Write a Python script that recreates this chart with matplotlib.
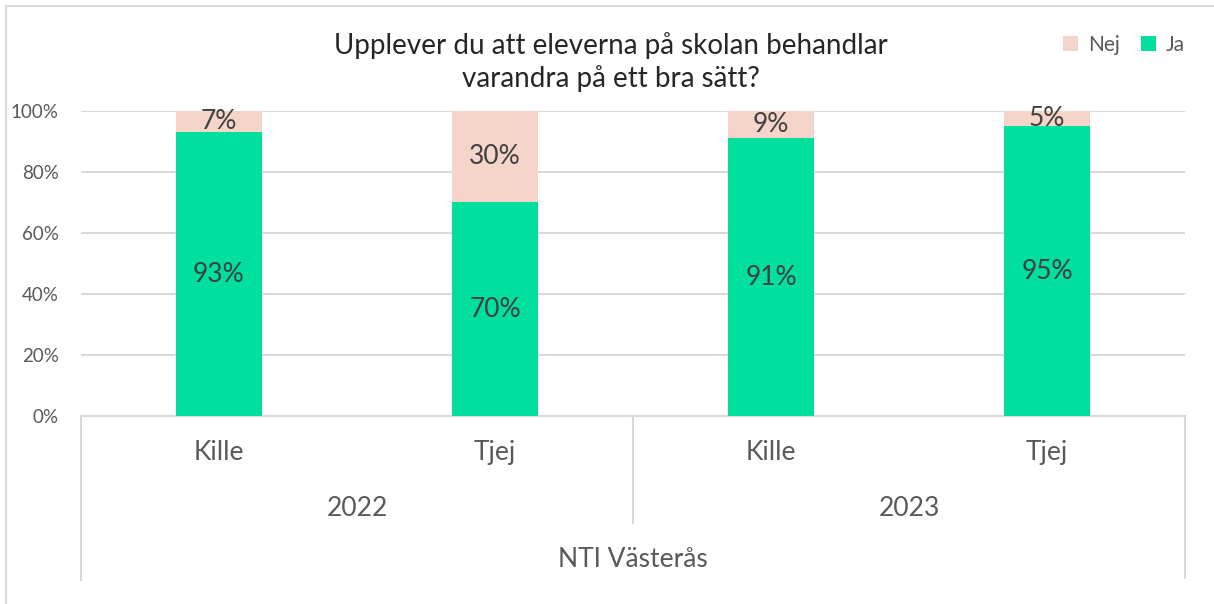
import matplotlib.pyplot as plt
import numpy as np

plt.rcParams['font.family'] = ['Lato', 'DejaVu Sans']

# data
years = ["2022", "2023"]
groups = ["Kille", "Tjej", "Kille", "Tjej"]
ja = [93, 70, 91, 95]
nej = [7, 30, 9, 5]
school = "NTI Västerås"
title = "Upplever du att eleverna på skolan behandlar\nvarandra på ett bra sätt?"

green = "#00DF9D"
pink = "#F5D5CA"
grid_c = "#D9D9D9"
txt = "#595959"

fig = plt.figure(figsize=(12.14, 6.04), dpi=100)
ax = fig.add_axes([81/1214, 1-416/604, 1104/1214, 305/604])

x = np.arange(len(groups))
w = 0.31
b1 = ax.bar(x, ja, w, color=green, label="Ja", zorder=3)
b2 = ax.bar(x, nej, w, bottom=ja, color=pink, label="Nej", zorder=3)

for i in range(len(x)):
    ax.text(x[i], ja[i] / 2, f"{ja[i]}%", ha="center", va="center",
            fontsize=19, color="#404040", zorder=4)
    ax.text(x[i], ja[i] + nej[i] / 2, f"{nej[i]}%", ha="center", va="center",
            fontsize=19, color="#404040", zorder=4)

ax.set_xlim(-0.5, len(x) - 0.5)
ax.set_ylim(0, 100)
ax.set_yticks(range(0, 101, 20))
ax.set_yticklabels([f"{v}%" for v in range(0, 101, 20)], fontsize=13.5, color=txt)
ax.tick_params(axis="y", length=0, pad=16)
ax.set_xticks([])
ax.grid(axis="y", color=grid_c, linewidth=1.5, zorder=0)
for s in ["left", "right", "top", "bottom"]:
    ax.spines[s].set_visible(False)

# multi level category axis
tr = ax.get_xaxis_transform()
ax.plot([-0.5, 3.5], [0, 0], color=grid_c, lw=1.5, transform=tr, clip_on=False)
ax.plot([-0.5, -0.5], [0, -0.538], color=grid_c, lw=1.5, transform=tr, clip_on=False)
ax.plot([3.5, 3.5], [0, -0.532], color=grid_c, lw=1.5, transform=tr, clip_on=False)
ax.plot([1.5, 1.5], [0, -0.351], color=grid_c, lw=1.5, transform=tr, clip_on=False)
for i, g in enumerate(groups):
    ax.text(x[i], -0.121, g, ha="center", va="center", fontsize=19, color=txt, transform=tr)
for j, yr in enumerate(years):
    ax.text(2 * j + 0.5, -0.302, yr, ha="center", va="center", fontsize=19, color=txt, transform=tr)
ax.text(1.5, -0.472, school, ha="center", va="center", fontsize=19, color=txt, transform=tr)

fig.text(611/1214, 1-62/604, title, ha="center", va="center", fontsize=20,
         color="#262626", linespacing=1.3)

fig.legend(handles=[b2, b1], labels=["Nej", "Ja"], ncol=2, frameon=False,
           loc="center right", bbox_to_anchor=(1204/1214, 1-45/604),
           fontsize=15, handlelength=0.7, handleheight=0.7, handletextpad=0.5,
           columnspacing=1.0, labelcolor=txt)

# chart border
fig.add_artist(plt.Line2D([6/1214, 6/1214], [0, 1-6/604], color=grid_c, lw=1.5))
fig.add_artist(plt.Line2D([6/1214, 1], [1-6/604, 1-6/604], color=grid_c, lw=1.5))

fig.savefig("out.png", dpi=100)
